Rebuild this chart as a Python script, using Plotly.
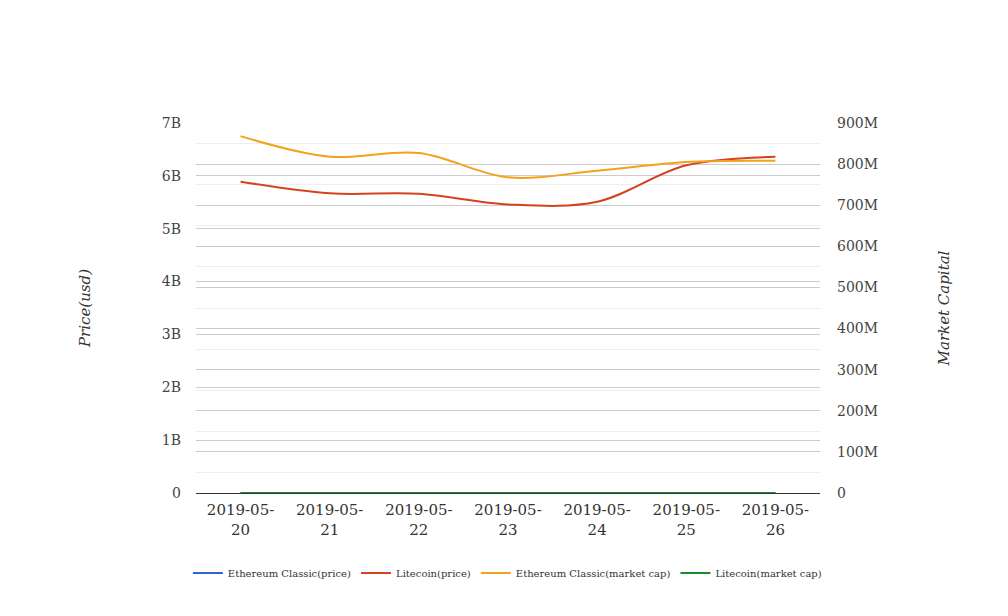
import plotly.graph_objects as go

dates = ["2019-05-20", "2019-05-21", "2019-05-22", "2019-05-23", "2019-05-24", "2019-05-25", "2019-05-26"]
date_labels = ["2019-05-<br>20", "2019-05-<br>21", "2019-05-<br>22", "2019-05-<br>23", "2019-05-<br>24", "2019-05-<br>25", "2019-05-<br>26"]

etc_price = [6.8, 6.5, 6.6, 6.2, 6.3, 6.5, 6.5]
ltc_price = [5.89e9, 5.67e9, 5.66e9, 5.46e9, 5.51e9, 6.20e9, 6.36e9]
etc_mcap = [868e6, 818e6, 827e6, 768e6, 784e6, 805e6, 808e6]
ltc_mcap = [92.0, 88.0, 88.5, 85.0, 86.0, 97.0, 101.0]

left_ticks = [0, 1e9, 2e9, 3e9, 4e9, 5e9, 6e9, 7e9]
left_labels = ["0", "1B", "2B", "3B", "4B", "5B", "6B", "7B"]
right_ticks = [0, 100e6, 200e6, 300e6, 400e6, 500e6, 600e6, 700e6, 800e6, 900e6]
right_labels = ["0", "100M", "200M", "300M", "400M", "500M", "600M", "700M", "800M", "900M"]

font = "DejaVu Serif"
fig = go.Figure()
fig.add_trace(go.Scatter(x=dates, y=etc_price, name="Ethereum Classic(price)", mode="lines",
                         line=dict(color="#3366cc", width=2, shape="spline"), yaxis="y"))
fig.add_trace(go.Scatter(x=dates, y=ltc_price, name="Litecoin(price)", mode="lines",
                         line=dict(color="#d4421e", width=2, shape="spline"), yaxis="y"))
fig.add_trace(go.Scatter(x=dates, y=etc_mcap, name="Ethereum Classic(market cap)", mode="lines",
                         line=dict(color="#f2a21b", width=2, shape="spline"), yaxis="y2"))
fig.add_trace(go.Scatter(x=dates, y=ltc_mcap, name="Litecoin(market cap)", mode="lines",
                         line=dict(color="#1a8c2a", width=2, shape="spline"), yaxis="y2"))

fig.update_layout(
    width=1008, height=616,
    margin=dict(l=188, r=196, t=115, b=131),
    paper_bgcolor="white", plot_bgcolor="white",
    font=dict(family=font, color="#444", size=14),
    showlegend=True,
    legend=dict(orientation="h", x=1.011, xanchor="right",
                y=-0.216, yanchor="middle",
                font=dict(size=10, color="#333", family=font), itemwidth=30, tracegroupgap=0),
    xaxis=dict(type="category", tickvals=dates, ticktext=date_labels, range=[-0.5, 6.5],
               showgrid=False, showline=True, linecolor="#333", linewidth=1, automargin=False,
               ticks="", ticklabelstandoff=3, tickfont=dict(size=15, color="#333"), zeroline=False),
    yaxis=dict(range=[0, 7e9], tickvals=left_ticks, ticktext=left_labels, automargin=False,
               showgrid=True, gridcolor="#cccccc", zeroline=False, showline=False,
               ticks="", ticklabelstandoff=14, tickfont=dict(size=14, color="#444"),
               title=dict(text="<i>Price(usd)</i>", font=dict(size=15, color="#333"), standoff=67)),
    yaxis2=dict(range=[0, 900e6], tickvals=right_ticks, ticktext=right_labels, overlaying="y", side="right",
                showgrid=True, gridcolor="#cccccc", zeroline=False, showline=False, automargin=False,
                minor=dict(dtick=50e6, tick0=0, showgrid=True, gridcolor="#eeeeee"),
                ticks="", ticklabelstandoff=16, tickfont=dict(size=14, color="#444"),
                title=dict(text="<i>Market Capital</i>", font=dict(size=15, color="#333"), standoff=61)),
)

fig.write_html("out.html")
